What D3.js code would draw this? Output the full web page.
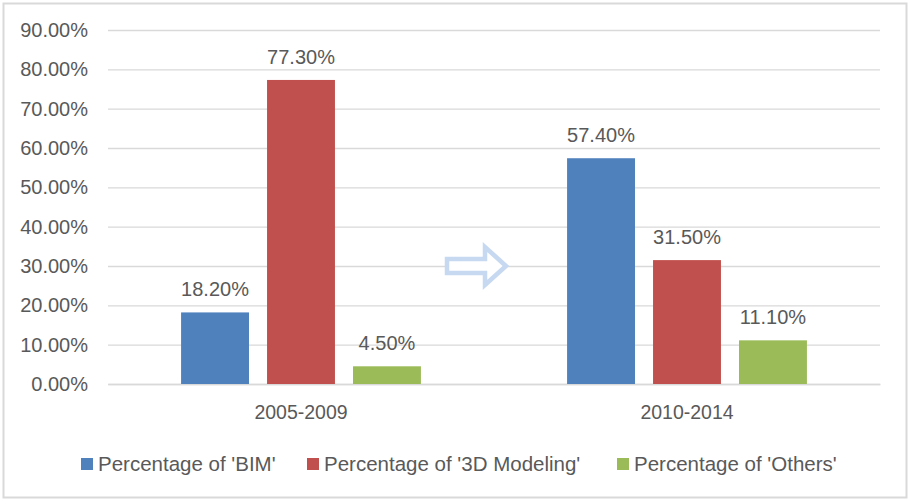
<!DOCTYPE html>
<html lang="en">
<head>
    <meta charset="UTF-8">
    <title>BIM vs 3D Modeling</title>
    <script src="https://d3js.org/d3.v7.min.js"></script>
    <style>
        body { margin: 0; background: #fff; }
        text { font-family: "Liberation Sans", Arial, sans-serif; fill: #595959; }
    </style>
</head>
<body>
<div class="chart"></div>
<script>
    // Data
    const periods = ["2005-2009", "2010-2014"];
    const seriesNames = ["Percentage of 'BIM'", "Percentage of '3D Modeling'", "Percentage of 'Others'"];
    const bim = [18.2, 57.4];
    const modeling = [77.3, 31.5];
    const others = [4.5, 11.1];
    const yTicks = [0, 10, 20, 30, 40, 50, 60, 70, 80, 90];
    const colors = ["#4f81bd", "#c0504d", "#9bbb59"];

    const seriesValues = [bim, modeling, others];
    const rows = periods.map((p, i) => ({
        period: p,
        values: seriesNames.map((s, j) => ({ key: s, value: seriesValues[j][i], idx: j }))
    }));

    const W = 909, H = 501;
    const plot = { left: 108, right: 880, top: 30, bottom: 384 };

    const svg = d3.select(".chart").append("svg")
        .attr("width", W)
        .attr("height", H);

    // outer frame
    svg.append("rect")
        .attr("x", 3.5).attr("y", 3.5)
        .attr("width", 903).attr("height", 494)
        .attr("fill", "#fff")
        .attr("stroke", "#d9d9d9")
        .attr("stroke-width", 2);

    const x = d3.scaleBand()
        .domain(periods)
        .range([plot.left, plot.right]);

    const x1 = d3.scaleBand()
        .domain(seriesNames)
        .range([0, x.bandwidth()])
        .paddingInner(0.21)
        .paddingOuter(0.85);

    const y = d3.scaleLinear()
        .domain([0, 90])
        .range([plot.bottom, plot.top]);

    // gridlines + y labels
    const yAxis = svg.append("g")
        .attr("transform", `translate(${plot.left},0)`)
        .call(d3.axisLeft(y).tickValues(yTicks)
            .tickSize(-(plot.right - plot.left))
            .tickPadding(20)
            .tickFormat(d => d.toFixed(2) + "%"));
    yAxis.select(".domain").remove();
    yAxis.selectAll(".tick line").attr("stroke", "#d9d9d9").attr("stroke-width", 1.3);
    yAxis.selectAll(".tick text").attr("font-size", 20).attr("fill", "#595959");

    // x labels
    const xAxis = svg.append("g")
        .attr("transform", `translate(0,${plot.bottom})`)
        .call(d3.axisBottom(x).tickSize(0).tickPadding(21));
    xAxis.select(".domain").attr("stroke", "#d9d9d9").attr("stroke-width", 1.3);
    xAxis.selectAll(".tick text").attr("font-size", 19.5).attr("fill", "#595959");

    // bars
    const groups = svg.selectAll(".grp")
        .data(rows)
        .join("g")
        .attr("class", "grp")
        .attr("transform", d => `translate(${x(d.period)},0)`);

    groups.selectAll("rect")
        .data(d => d.values)
        .join("rect")
        .attr("x", d => x1(d.key))
        .attr("y", d => y(d.value))
        .attr("width", x1.bandwidth())
        .attr("height", d => y(0) - y(d.value))
        .attr("fill", d => colors[d.idx]);

    groups.selectAll("text.val")
        .data(d => d.values)
        .join("text")
        .attr("class", "val")
        .attr("x", d => x1(d.key) + x1.bandwidth() / 2)
        .attr("y", d => y(d.value) - 16)
        .attr("text-anchor", "middle")
        .attr("font-size", 20)
        .text(d => d.value.toFixed(2) + "%");

    // decorative arrow between the two periods
    const ax = x(periods[1]);   // boundary between the two bands
    const ay = y(30);
    const arrow = [
        [ax - 47, ay - 7], [ax - 9, ay - 7], [ax - 9, ay - 19],
        [ax + 12, ay], [ax - 9, ay + 19], [ax - 9, ay + 7], [ax - 47, ay + 7]
    ];
    svg.append("path")
        .attr("d", d3.line()(arrow) + "Z")
        .attr("fill", "#fff")
        .attr("stroke", "#c6d9f1")
        .attr("stroke-width", 4.5)
        .attr("stroke-linejoin", "miter");

    // legend
    const legendX = [81, 307, 617];
    const legend = svg.append("g")
        .selectAll("g")
        .data(seriesNames)
        .join("g")
        .attr("transform", (d, i) => `translate(${legendX[i]},464)`);
    legend.append("rect")
        .attr("x", 0).attr("y", -6)
        .attr("width", 12).attr("height", 12)
        .attr("fill", (d, i) => colors[i]);
    legend.append("text")
        .attr("x", 17)
        .attr("dy", "0.35em")
        .attr("font-size", 20.5)
        .text(d => d);
</script>
</body>
</html>
